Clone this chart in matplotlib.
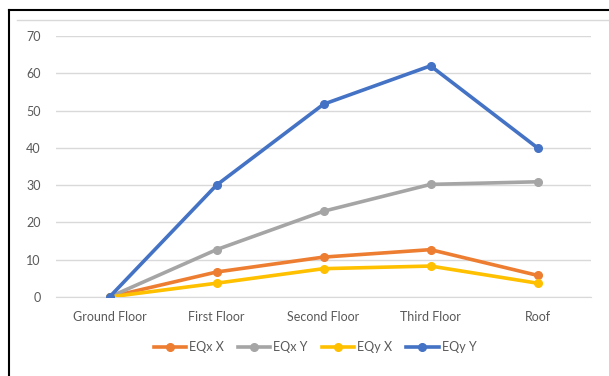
import matplotlib
matplotlib.use("Agg")
import matplotlib.pyplot as plt
from matplotlib.lines import Line2D

floors = ["Ground Floor", "First Floor", "Second Floor", "Third Floor", "Roof"]
eqx_x = [0, 6.7, 10.7, 12.7, 5.8]
eqx_y = [0, 12.7, 23.0, 30.2, 30.9]
eqy_x = [0, 3.7, 7.6, 8.3, 3.7]
eqy_y = [0, 30.0, 51.7, 62.0, 40.0]
series_names = ["EQx X", "EQx Y", "EQy X", "EQy Y"]
yticks = [0, 10, 20, 30, 40, 50, 60, 70]

colors = ["#ED7D31", "#A5A5A5", "#FFC000", "#4472C4"]
text_color = "#595959"

plt.rcParams["font.family"] = ["Lato", "DejaVu Sans"]

fig = plt.figure(figsize=(6.09, 3.76), dpi=100)
W, H = 609, 376

ax = fig.add_axes([56 / W, 1 - 297 / H, 535 / W, 261 / H])
xs = list(range(len(floors)))
for vals, name, c in zip([eqx_x, eqx_y, eqy_x, eqy_y], series_names, colors):
    ax.plot(xs, vals, color=c, lw=2.6, marker="o", ms=5.5, label=name,
            solid_capstyle="round", solid_joinstyle="round", zorder=3)

ax.set_xlim(-0.5, len(floors) - 0.5)
ax.set_ylim(0, 70)
ax.set_yticks(yticks)
ax.set_xticks(xs)
ax.set_xticklabels(floors)
ax.grid(axis="y", color="#D9D9D9", lw=1)
ax.set_axisbelow(True)
for s in ["top", "right", "left"]:
    ax.spines[s].set_visible(False)
ax.spines["bottom"].set_color("#D9D9D9")
ax.tick_params(axis="both", length=0, labelsize=9, colors=text_color)
ax.tick_params(axis="y", pad=11)
ax.tick_params(axis="x", pad=10)

handles = [Line2D([0], [0], color=c, lw=2.6, marker="o", ms=5.5) for c in colors]
leg = fig.legend(handles, series_names, loc="center", bbox_to_anchor=(315 / W, 1 - 347 / H),
                 ncol=4, frameon=False, fontsize=9, handlelength=2.6,
                 handletextpad=0.25, columnspacing=1.1)
for t in leg.get_texts():
    t.set_color(text_color)

# page frame and chart border lines
fig.add_artist(Line2D([8.5 / W, 8.5 / W], [0, 1 - 10 / H], color="black", lw=1.5))
fig.add_artist(Line2D([8.5 / W, 1], [1 - 10 / H, 1 - 10 / H], color="black", lw=1.5))
fig.add_artist(Line2D([17 / W, 1], [1 - 19.5 / H, 1 - 19.5 / H], color="#D9D9D9", lw=1))

fig.savefig("out.png", dpi=100)
